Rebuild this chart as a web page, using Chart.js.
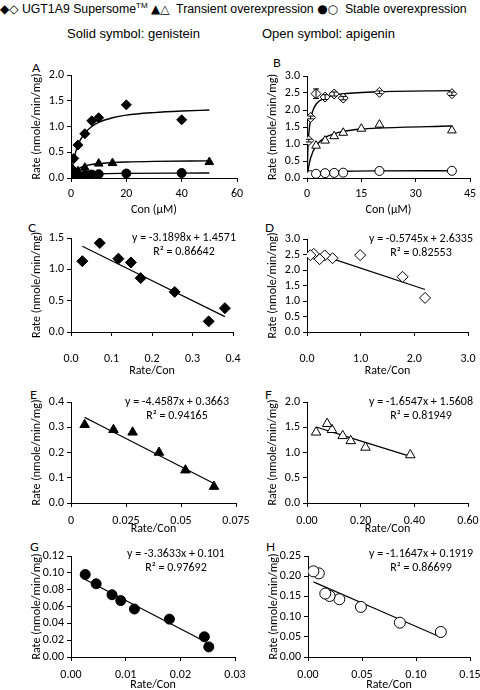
<!DOCTYPE html>
<html>
<head>
<meta charset="utf-8">
<script src="https://cdn.jsdelivr.net/npm/chart.js@4.4.0/dist/chart.umd.min.js"></script>
<style>
  body { margin: 0; width: 480px; height: 690px; overflow: hidden; background: #fff; position: relative; }
  canvas { position: absolute; }
  .hdr { position: absolute; white-space: nowrap; font-family: "Liberation Sans", Arial, sans-serif; color: #000; }
  .hdr sup { font-size: 8px; }
  .sym { font-family: "DejaVu Sans", sans-serif; font-size: 12px; }
  .tag { position: absolute; font: 12px Lato, sans-serif; color: #000; }
</style>
</head>
<body>
<div class="hdr" style="left:0px;top:1px;font-size:12.3px;"><span class="sym">◆◇</span> UGT1A9 Supersome<sup>TM</sup> <span class="sym">▲△</span>&nbsp; Transient overexpression <span class="sym">●○</span>&nbsp; Stable overexpression</div>
<div class="hdr" style="left:67px;top:26px;font-size:13px;">Solid symbol: genistein</div>
<div class="hdr" style="left:262px;top:26px;font-size:13px;">Open symbol: apigenin</div>

<div class="tag" style="left:32px;top:60px">A</div>
<div class="tag" style="left:273px;top:55px">B</div>
<div class="tag" style="left:28px;top:220px">C</div>
<div class="tag" style="left:265px;top:220px">D</div>
<div class="tag" style="left:30px;top:387px">E</div>
<div class="tag" style="left:265px;top:387px">F</div>
<div class="tag" style="left:30px;top:539px">G</div>
<div class="tag" style="left:266px;top:539px">H</div>

<canvas id="chartA"></canvas>
<canvas id="chartB"></canvas>
<canvas id="chartC"></canvas>
<canvas id="chartD"></canvas>
<canvas id="chartE"></canvas>
<canvas id="chartF"></canvas>
<canvas id="chartG"></canvas>
<canvas id="chartH"></canvas>

<script>
// concentrations (uM)
const conc = [0.5, 1, 2.5, 5, 7.5, 10, 20, 40];
const concGenTrans = [1, 2.5, 5, 10, 15, 50];
const concApiTrans = [2.5, 5, 7.5, 10, 15, 20, 40];

// genistein rates (nmole/min/mg)
const genSuper = [0.17, 0.38, 0.64, 0.86, 1.11, 1.17, 1.42, 1.13];
const genTrans = [0.065, 0.13, 0.20, 0.28, 0.29, 0.31];
const genStable = [0.012, 0.024, 0.045, 0.057, 0.067, 0.074, 0.087, 0.098];

// apigenin rates
const apiSuper = [1.10, 1.78, 2.48, 2.38, 2.47, 2.35, 2.52, 2.48];
const apiSuperErr = [0.04, 0.04, 0.14, 0.07, 0.06, 0.05, 0.04, 0.05];
const apiTrans = [0.95, 1.10, 1.23, 1.33, 1.45, 1.57, 1.40];
const apiStable = [0.062, 0.085, 0.124, 0.143, 0.151, 0.157, 0.207, 0.212];

// rate/con values (panels C-H)
const genSuperRC = [0.34, 0.38, 0.256, 0.172, 0.148, 0.117, 0.071, 0.028];
const genTransRC = [0.065, 0.052, 0.040, 0.028, 0.0193, 0.0062];
const genStableRC = [0.0252, 0.0244, 0.018, 0.0116, 0.0091, 0.0075, 0.0046, 0.0026];
const apiSuperRC = [2.2, 1.78, 0.99, 0.476, 0.33, 0.235, 0.126, 0.062];
const apiTransRC = [0.385, 0.218, 0.163, 0.133, 0.093, 0.075, 0.034];
const apiStableRC = [0.123, 0.085, 0.049, 0.029, 0.020, 0.016, 0.010, 0.005];

const fitGenSuperX = [0, 0.5, 1, 2.5, 5, 7.5, 10, 15, 20, 30, 40, 50];
const fitGenSuperY = [0, 0.2, 0.35, 0.64, 0.87, 1.0, 1.08, 1.17, 1.22, 1.27, 1.3, 1.32];
const fitGenTransX = [0, 0.5, 1, 2.5, 5, 10, 15, 20, 30, 50];
const fitGenTransY = [0, 0.06, 0.1, 0.175, 0.233, 0.28, 0.3, 0.311, 0.322, 0.333];
const fitGenStableX = [0, 0.5, 1, 2.5, 5, 10, 20, 40, 50];
const fitGenStableY = [0, 0.02, 0.033, 0.055, 0.071, 0.083, 0.09, 0.095, 0.096];
const fitApiSuperX = [0, 0.25, 0.5, 1, 1.5, 2.5, 5, 7.5, 10, 20, 40];
const fitApiSuperY = [0, 0.87, 1.3, 1.73, 1.95, 2.17, 2.36, 2.44, 2.48, 2.54, 2.57];
const fitApiTransX = [0, 0.5, 1, 2.5, 5, 7.5, 10, 15, 20, 40];
const fitApiTransY = [0, 0.36, 0.59, 0.95, 1.19, 1.3, 1.37, 1.44, 1.47, 1.53];
const fitApiStableX = [0, 0.5, 1, 2.5, 5, 10, 20, 40];
const fitApiStableY = [0, 0.073, 0.11, 0.157, 0.183, 0.2, 0.21, 0.215];

// linear trend line end points
const trendCX = [0.028, 0.38], trendCY = [1.368, 0.245];
const trendDX = [0.062, 2.2], trendDY = [2.598, 1.370];
const trendEX = [0.0062, 0.065], trendEY = [0.339, 0.077];
const trendFX = [0.034, 0.385], trendFY = [1.504, 0.924];
const trendGX = [0.0026, 0.0252], trendGY = [0.092, 0.016];
const trendHX = [0.005, 0.123], trendHY = [0.186, 0.049];

// equations
const eqC = ['y = -3.1898x + 1.4571', 'R² = 0.86642'];
const eqD = ['y = -0.5745x + 2.6335', 'R² = 0.82553'];
const eqE = ['y = -4.4587x + 0.3663', 'R² = 0.94165'];
const eqF = ['y = -1.6547x + 1.5608', 'R² = 0.81949'];
const eqG = ['y = -3.3633x + 0.101', 'R² = 0.97692'];
const eqH = ['y = -1.1647x + 0.1919', 'R² = 0.86699'];

// tick values and labels
const xTicksA = [0, 20, 40, 60], xLabelsA = ['0', '20', '40', '60'];
const yTicksA = [0, 0.5, 1, 1.5, 2], yLabelsA = ['0.0', '0.5', '1.0', '1.5', '2.0'];
const xTicksB = [0, 15, 30, 45], xLabelsB = ['0', '15', '30', '45'];
const yTicksB = [0, 0.5, 1, 1.5, 2, 2.5, 3], yLabelsB = ['0.0', '0.5', '1.0', '1.5', '2.0', '2.5', '3.0'];
const xTicksC = [0, 0.1, 0.2, 0.3, 0.4], xLabelsC = ['0.0', '0.1', '0.2', '0.3', '0.4'];
const yTicksC = [0, 0.5, 1, 1.5], yLabelsC = ['0.0', '0.5', '1.0', '1.5'];
const xTicksD = [0, 1, 2, 3], xLabelsD = ['0.0', '1.0', '2.0', '3.0'];
const yTicksD = yTicksB, yLabelsD = yLabelsB;
const xTicksE = [0, 0.025, 0.05, 0.075], xLabelsE = ['0', '0.025', '0.05', '0.075'];
const yTicksE = [0, 0.1, 0.2, 0.3, 0.4], yLabelsE = ['0.0', '0.1', '0.2', '0.3', '0.4'];
const xTicksF = [0, 0.2, 0.4, 0.6], xLabelsF = ['0.00', '0.20', '0.40', '0.60'];
const yTicksF = [0, 0.5, 1, 1.5, 2], yLabelsF = ['0.0', '0.5', '1.0', '1.5', '2.0'];
const xTicksG = [0, 0.01, 0.02, 0.03], xLabelsG = ['0.00', '0.01', '0.02', '0.03'];
const yTicksG = [0, 0.02, 0.04, 0.06, 0.08, 0.1, 0.12], yLabelsG = ['0.00', '0.02', '0.04', '0.06', '0.08', '0.10', '0.12'];
const xTicksH = [0, 0.05, 0.1, 0.15], xLabelsH = ['0.00', '0.05', '0.10', '0.15'];
const yTicksH = [0, 0.05, 0.1, 0.15, 0.2, 0.25], yLabelsH = ['0.00', '0.05', '0.10', '0.15', '0.20', '0.25'];

Chart.defaults.font.family = 'Carlito, Lato, sans-serif';
Chart.defaults.font.size = 12;
Chart.defaults.color = '#000';

const pts = (xs, ys) => xs.map((x, i) => ({ x: x, y: ys[i] }));

function marks(xs, ys, style, open, r, err) {
  return {
    data: pts(xs, ys), pointStyle: style, pointRadius: r, pointHoverRadius: r,
    backgroundColor: open ? '#fff' : '#000', borderColor: '#000', borderWidth: 1,
    showLine: false, order: 1, errors: err
  };
}
function curve(xs, ys, w) {
  return {
    data: pts(xs, ys), showLine: true, pointRadius: 0, borderColor: '#000', borderWidth: w || 1.4,
    cubicInterpolationMode: 'monotone', order: 2
  };
}

const errorBars = {
  id: 'errorBars',
  afterDatasetsDraw(chart) {
    const ctx = chart.ctx, xs = chart.scales.x, ys = chart.scales.y;
    chart.data.datasets.forEach(ds => {
      if (!ds.errors) return;
      ctx.save();
      ctx.strokeStyle = '#000'; ctx.lineWidth = 1;
      ds.data.forEach((p, i) => {
        const px = xs.getPixelForValue(p.x);
        const y1 = ys.getPixelForValue(p.y + ds.errors[i]);
        const y2 = ys.getPixelForValue(p.y - ds.errors[i]);
        ctx.beginPath();
        ctx.moveTo(px, y1); ctx.lineTo(px, y2);
        ctx.moveTo(px - 3, y1); ctx.lineTo(px + 3, y1);
        ctx.moveTo(px - 3, y2); ctx.lineTo(px + 3, y2);
        ctx.stroke();
      });
      ctx.restore();
    });
  }
};

const equation = {
  id: 'equation',
  afterDraw(chart, args, opts) {
    if (!opts.lines) return;
    const ctx = chart.ctx, a = chart.chartArea;
    ctx.save();
    ctx.font = '12px Carlito, Lato, sans-serif';
    ctx.fillStyle = '#000';
    ctx.textAlign = 'center';
    ctx.textBaseline = 'middle';
    opts.lines.forEach((t, i) => ctx.fillText(t, a.right - opts.dx, a.top + opts.dy + i * 14));
    ctx.restore();
  }
};

function axis(ticks, labels, min, max, title, fit, pad, horiz) {
  return {
    type: 'linear', min: min, max: max,
    afterBuildTicks: s => { s.ticks = ticks.map(v => ({ value: v })); },
    afterFit: s => { if (s.isHorizontal()) s.height = fit; else s.width = fit; },
    ticks: { callback: (v, i) => labels[i], padding: pad, autoSkip: false, maxRotation: 0, color: '#000' },
    grid: { drawOnChartArea: false, tickLength: 4, color: '#000' },
    border: { color: '#000', width: 1 },
    title: { display: true, text: title, color: '#000', padding: horiz ? 0 : 4 }
  };
}

function panel(id, box, xH, xPad, xAx, yAx, datasets, eq) {
  const padL = 45, padT = 15, padR = 25;
  const cv = document.getElementById(id);
  cv.width = box.r - box.l + padL + padR;
  cv.height = box.b - box.t + padT + xH;
  cv.style.left = (box.l - padL) + 'px';
  cv.style.top = (box.t - padT) + 'px';
  new Chart(cv, {
    type: 'scatter',
    data: { datasets: datasets },
    plugins: [errorBars, equation],
    options: {
      responsive: false, animation: false, events: [],
      layout: { padding: { top: padT, right: padR, left: 0, bottom: 0 } },
      plugins: { legend: { display: false }, tooltip: { enabled: false }, equation: eq || {} },
      scales: {
        x: axis(xAx[0], xAx[1], xAx[2], xAx[3], xAx[4], xH, xPad, true),
        y: axis(yAx[0], yAx[1], yAx[2], yAx[3], 'Rate (nmole/min/mg)', padL, 3, false)
      }
    }
  });
}

const rateTitle = 'Rate/Con';

panel('chartA', { l: 71, t: 75, r: 237, b: 178 }, 39, 5,
  [xTicksA, xLabelsA, 0, 60, 'Con (µM)'], [yTicksA, yLabelsA, 0, 2],
  [marks(conc, genSuper, 'rectRot', false, 5), marks(concGenTrans, genTrans, 'triangle', false, 5),
   marks(conc, genStable, 'circle', false, 4.5),
   curve(fitGenSuperX, fitGenSuperY), curve(fitGenTransX, fitGenTransY), curve(fitGenStableX, fitGenStableY)]);

panel('chartB', { l: 307, t: 76, r: 470, b: 178 }, 39, 5,
  [xTicksB, xLabelsB, 0, 45, 'Con (µM)'], [yTicksB, yLabelsB, 0, 3],
  [marks(conc, apiSuper, 'rectRot', true, 5, apiSuperErr), marks(concApiTrans, apiTrans, 'triangle', true, 5),
   marks(conc, apiStable, 'circle', true, 4.5),
   curve(fitApiSuperX, fitApiSuperY), curve(fitApiTransX, fitApiTransY), curve(fitApiStableX, fitApiStableY)]);

panel('chartC', { l: 71, t: 238, r: 233, b: 332 }, 46, 16,
  [xTicksC, xLabelsC, 0, 0.4, rateTitle], [yTicksC, yLabelsC, 0, 1.5],
  [marks(genSuperRC, genSuper, 'rectRot', false, 5.5), curve(trendCX, trendCY, 1.2)],
  { lines: eqC, dx: 49, dy: 0 });

panel('chartD', { l: 307, t: 239, r: 468, b: 332 }, 46, 16,
  [xTicksD, xLabelsD, 0, 3, rateTitle], [yTicksD, yLabelsD, 0, 3],
  [marks(apiSuperRC, apiSuper, 'rectRot', true, 5.5), curve(trendDX, trendDY, 1.2)],
  { lines: eqD, dx: 47, dy: 0 });

panel('chartE', { l: 71, t: 402, r: 236, b: 503 }, 33, 7,
  [xTicksE, xLabelsE, 0, 0.075, rateTitle], [yTicksE, yLabelsE, 0, 0.4],
  [marks(genTransRC, genTrans, 'triangle', false, 5.5), curve(trendEX, trendEY, 1.2)],
  { lines: eqE, dx: 59, dy: 0 });

panel('chartF', { l: 307, t: 402, r: 468, b: 503 }, 33, 7,
  [xTicksF, xLabelsF, 0, 0.6, rateTitle], [yTicksF, yLabelsF, 0, 2],
  [marks(apiTransRC, apiTrans, 'triangle', true, 5.5), curve(trendFX, trendFY, 1.2)],
  { lines: eqF, dx: 47, dy: 0 });

panel('chartG', { l: 71, t: 556, r: 235, b: 657 }, 35, 7,
  [xTicksG, xLabelsG, 0, 0.03, rateTitle], [yTicksG, yLabelsG, 0, 0.12],
  [marks(genStableRC, genStable, 'circle', false, 5), curve(trendGX, trendGY, 1.2)],
  { lines: eqG, dx: 59, dy: -2 });

panel('chartH', { l: 308, t: 556, r: 470, b: 657 }, 35, 7,
  [xTicksH, xLabelsH, 0, 0.15, rateTitle], [yTicksH, yLabelsH, 0, 0.25],
  [marks(apiStableRC, apiStable, 'circle', true, 5.5), curve(trendHX, trendHY, 1.2)],
  { lines: eqH, dx: 49, dy: -2 });
</script>
</body>
</html>
